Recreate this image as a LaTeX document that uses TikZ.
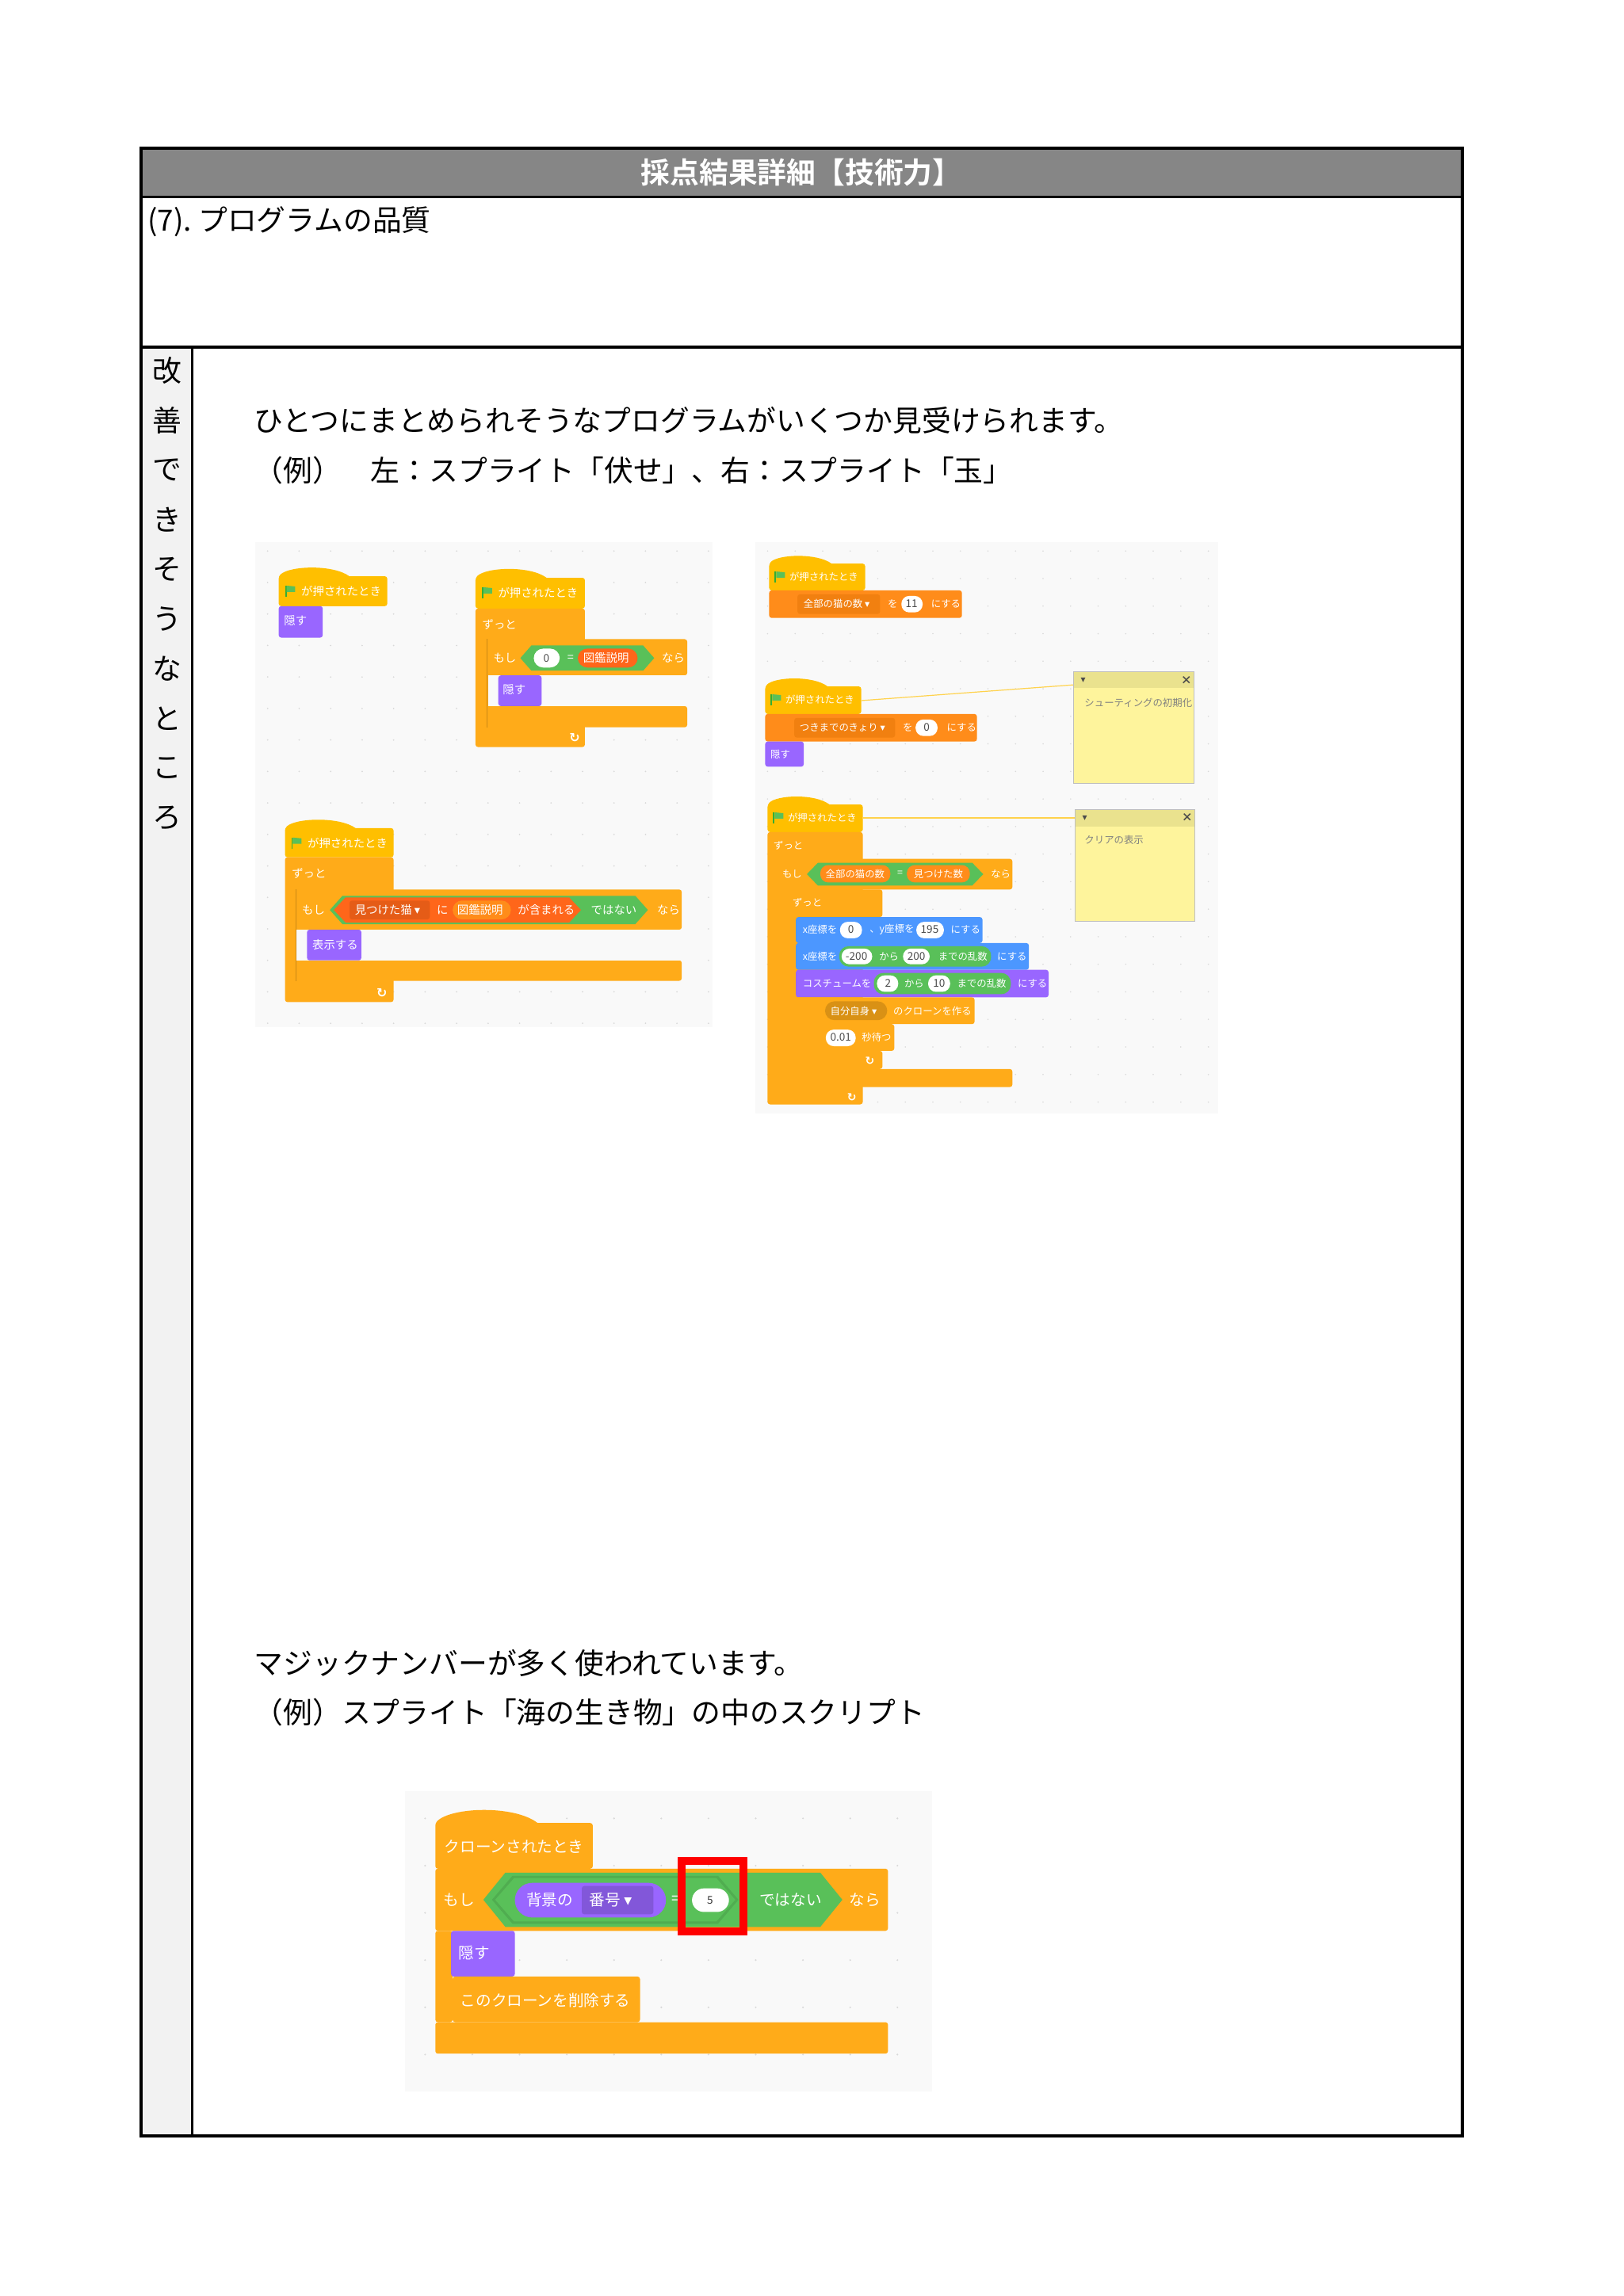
\documentclass[tikz,border=0pt]{standalone}
\usepackage{fontspec}
\setmainfont{Noto Sans CJK JP}
\newfontfamily\jpb{Noto Sans CJK JP Bold}
\newfontfamily\dejavufont{DejaVu Sans}
\newcommand\dn{{\dejavufont ▾}}
\newcommand\rp{{\dejavufont ↻}}
\definecolor{evt}{HTML}{FFBF00}
\definecolor{ctl}{HTML}{FFAB19}
\definecolor{var}{HTML}{FF8C1A}
\definecolor{vard}{HTML}{DB6E00}
\definecolor{lst}{HTML}{FF661A}
\definecolor{opr}{HTML}{59C059}
\definecolor{mot}{HTML}{4C97FF}
\definecolor{lks}{HTML}{9966FF}
\definecolor{bgs}{HTML}{F9F9F9}
\definecolor{note}{HTML}{FEF49C}
\definecolor{noteh}{HTML}{EAE28E}
\newcommand\sbk[5]{\fill[#5,rounded corners=0.8pt] (#1,#2) rectangle (#3,#4);}
\newcommand\hatb[5]{\fill[#5,rounded corners=0.8pt] (#1,#4) -- (#1,#2) [sharp corners] .. controls ({#1+0.1*(#3-#1)},{#2-0.35*(#4-#2)}) and ({#1+0.5*(#3-#1)},{#2-0.4*(#4-#2)}) .. ({#1+0.65*(#3-#1)},#2) [rounded corners=0.8pt] -- (#3,#2) -- (#3,#4) -- cycle;}
\newcommand\hexb[6]{\fill[#6] (#1,{(#2+#4)/2}) -- ({#1+#5},#2) -- ({#3-#5},#2) -- (#3,{(#2+#4)/2}) -- ({#3-#5},#4) -- ({#1+#5},#4) -- cycle;}
\newcommand\ovl[6]{\fill[#5,rounded corners=#6] (#1,#2) rectangle (#3,#4);}
\newcommand\tx[4]{\node[anchor=west,inner sep=0,text=white,font=#4] at (#1,#2) {#3};}
\newcommand\txc[4]{\node[inner sep=0,text=#4,font=\fontsize{3.4}{4}\selectfont] at (#1,#2) {#3};}
\newcommand\flag[2]{\fill[green!60!black!80] (#1,#2) rectangle ({#1+2},{#2+14}); \fill[opr] ({#1+2},#2) -- ({#1+13},{#2+1}) -- ({#1+13},{#2+8}) -- ({#1+2},{#2+8}) -- cycle;}
\begin{document}
\begin{tikzpicture}[x=0.2483pt,y=-0.2483pt]
\fill[white] (0pt,0pt) rectangle (512pt,-724.25pt);
\useasboundingbox (0pt,0pt) rectangle (512pt,-724.25pt);
% table
\fill[gray!95] (179,188) rectangle (1858,250);
\fill[black!5] (179,441) rectangle (244,2713);
\draw[line width=1pt] (179,188) rectangle (1858,2713);
\draw[line width=0.8pt] (179,250) -- (1858,250);
\draw[line width=0.8pt] (179,441) -- (1858,441);
\draw[line width=0.8pt] (244,441) -- (244,2713);
\node[text=white,font=\jpb\fontsize{9.2}{11}\selectfont] (title) at (1018,219) {採点結果詳細【技術力】};
\node[anchor=west,inner sep=0,font=\fontsize{9.2}{11}\selectfont] (h7) at (187,282) {(7).\ プログラムの品質};
\foreach \c [count=\i from 0] in {改,善,で,き,そ,う,な,と,こ,ろ}
  \node[inner sep=0,font=\fontsize{9.2}{11}\selectfont] at (212,{471+63.1*\i}) {\c};
\node[anchor=west,inner sep=0,font=\fontsize{9.2}{11}\selectfont] (t1) at (322,534) {ひとつにまとめられそうなプログラムがいくつか見受けられます。};
\node[anchor=west,inner sep=0,font=\fontsize{9.2}{11}\selectfont] (t2) at (322,598) {（例）\quad 左：スプライト「伏せ」、右：スプライト「玉」};
\node[anchor=west,inner sep=0,font=\fontsize{9.2}{11}\selectfont] (t3) at (322,2113) {マジックナンバーが多く使われています。};
\node[anchor=west,inner sep=0,font=\fontsize{9.2}{11}\selectfont] (t4) at (322,2175) {（例）スプライト「海の生き物」の中のスクリプト};
% ================= left screenshot
\fill[bgs] (324,689) rectangle (905,1305);
\foreach \x in {340,380,...,900} \foreach \y in {700,740,...,1300} \fill[black!15] (\x,\y) circle (0.25pt);
\def\fa{\fontsize{3.6}{4}\selectfont}
\hatb{354}{732}{492}{770}{evt} \flag{362}{744} \tx{382}{751}{が押されたとき}{\fa}
\sbk{354}{770}{410}{810}{lks} \tx{360}{788}{隠す}{\fa}
% block B
\hatb{604}{734}{743}{773}{evt} \flag{612}{746} \tx{632}{753}{が押されたとき}{\fa}
\sbk{604}{773}{743}{949}{ctl} \tx{612}{793}{ずっと}{\fa}
\sbk{619}{812}{873}{858}{ctl} \sbk{619}{897}{873}{924}{ctl}
\fill[bgs] (620,858) rectangle (873,897);
\draw[ctl!80!black,line width=0.2pt] (619,812) -- (619,924);
\tx{626}{836}{もし}{\fa}
\hexb{661}{820}{831}{852}{14}{opr}
\ovl{678}{824}{711}{848}{white}{3pt} \txc{694}{836}{0}{black!70}
\tx{720}{836}{=}{\fa}
\ovl{734}{824}{810}{848}{lst}{3pt} \tx{740}{836}{図鑑説明}{\fa}
\tx{840}{836}{なら}{\fa}
\sbk{633}{858}{688}{897}{lks} \tx{638}{876}{隠す}{\fa}
\node[text=white,font=\bfseries\fontsize{4}{4}\selectfont] at (730,937) {\rp};
% block C
\hatb{362}{1052}{500}{1089}{evt} \flag{370}{1064} \tx{390}{1071}{が押されたとき}{\fa}
\sbk{362}{1089}{500}{1273}{ctl} \tx{370}{1110}{ずっと}{\fa}
\sbk{376}{1130}{866}{1181}{ctl} \sbk{376}{1220}{866}{1246}{ctl}
\fill[bgs] (377,1181) rectangle (866,1220);
\draw[ctl!80!black,line width=0.2pt] (376,1130) -- (376,1246);
\tx{383}{1156}{もし}{\fa}
\hexb{419}{1138}{823}{1174}{16}{opr}
\hexb{424}{1140}{738}{1172}{15}{lst}
\sbk{444}{1144}{546}{1168}{lst!90!black} \tx{450}{1156}{見つけた猫 \dn}{\fa}
\tx{554}{1156}{に}{\fa}
\ovl{575}{1144}{649}{1168}{var}{3pt} \tx{580}{1156}{図鑑説明}{\fa}
\tx{657}{1156}{が含まれる}{\fa}
\tx{750}{1156}{ではない}{\fa}
\tx{834}{1156}{なら}{\fa}
\sbk{390}{1181}{459}{1220}{lks} \tx{396}{1200}{表示する}{\fa}
\node[text=white,font=\bfseries\fontsize{4}{4}\selectfont] at (485,1262) {\rp};
% ================= right screenshot
\fill[bgs] (959,689) rectangle (1547,1415);
\foreach \x in {975,1010,...,1545} \foreach \y in {700,735,...,1410} \fill[black!15] (\x,\y) circle (0.22pt);
\def\fb{\fontsize{3.1}{3.5}\selectfont}
% D
\hatb{977}{716}{1099}{750}{evt} \flag{984}{726} \tx{1002}{733}{が押されたとき}{\fb}
\sbk{977}{750}{1222}{785}{var}
\sbk{1013}{755}{1118}{780}{vard!40!var} \tx{1020}{767}{全部の猫の数 \dn}{\fb}
\tx{1127}{767}{を}{\fb}
\ovl{1145}{757}{1172}{778}{white}{2.5pt} \txc{1158}{767}{11}{black!70}
\tx{1182}{767}{にする}{\fb}
% E
\hatb{972}{872}{1094}{907}{evt} \flag{979}{882} \tx{997}{889}{が押されたとき}{\fb}
\sbk{972}{907}{1241}{942}{var}
\sbk{1009}{912}{1137}{937}{vard!40!var} \tx{1015}{924}{つきまでのきょり \dn}{\fb}
\tx{1146}{924}{を}{\fb}
\ovl{1163}{914}{1191}{935}{white}{2.5pt} \txc{1177}{924}{0}{black!70}
\tx{1202}{924}{にする}{\fb}
\sbk{972}{942}{1021}{974}{lks} \tx{978}{958}{隠す}{\fb}
% note 1
\draw[evt!70,line width=0.3pt] (1094,890) -- (1364,870);
\fill[note] (1364,853) rectangle (1517,995);
\fill[noteh] (1364,853) rectangle (1517,874);
\draw[black!25,line width=0.2pt] (1364,853) rectangle (1517,995);
\node[font=\fontsize{3}{3}\selectfont,text=black!70] at (1376,864) {\dn};
\node[font=\bfseries\fontsize{3.5}{3}\selectfont,text=black!70] at (1507,864) {×};
\node[anchor=west,inner sep=0,font=\fb,text=black!50] at (1377,893) {シューティングの初期化};
% F
\hatb{975}{1022}{1096}{1057}{evt} \flag{982}{1032} \tx{1000}{1039}{が押されたとき}{\fb}
\sbk{975}{1057}{1096}{1403}{ctl} \tx{982}{1074}{ずっと}{\fb}
\sbk{986}{1091}{1286}{1130}{ctl} \sbk{986}{1358}{1286}{1381}{ctl}
\sbk{986}{1130}{1011}{1358}{ctl}
\tx{993}{1110}{もし}{\fb}
\hexb{1025}{1096}{1249}{1125}{14}{opr}
\ovl{1042}{1099}{1131}{1121}{var}{2.5pt} \tx{1048}{1110}{全部の猫の数}{\fb}
\tx{1139}{1110}{=}{\fb}
\ovl{1152}{1099}{1232}{1121}{var}{2.5pt} \tx{1160}{1110}{見つけた数}{\fb}
\tx{1258}{1110}{なら}{\fb}
\sbk{1000}{1130}{1121}{1165}{ctl} \tx{1006}{1147}{ずっと}{\fb}
\sbk{1000}{1165}{1011}{1358}{ctl} \sbk{1000}{1335}{1121}{1358}{ctl}
\sbk{1011}{1165}{1248}{1198}{mot} \tx{1019}{1181}{x座標を}{\fb}
\ovl{1067}{1171}{1095}{1192}{white}{2.5pt} \txc{1081}{1181}{0}{black!70}
\tx{1104}{1181}{、y座標を}{\fb}
\ovl{1164}{1171}{1199}{1192}{white}{2.5pt} \txc{1181}{1181}{195}{black!70}
\tx{1207}{1181}{にする}{\fb}
\sbk{1011}{1198}{1307}{1232}{mot} \tx{1019}{1215}{x座標を}{\fb}
\ovl{1066}{1202}{1259}{1228}{opr}{3pt}
\ovl{1069}{1205}{1108}{1225}{white}{2.5pt} \txc{1088}{1215}{-200}{black!70}
\tx{1116}{1215}{から}{\fb}
\ovl{1147}{1205}{1181}{1225}{white}{2.5pt} \txc{1164}{1215}{200}{black!70}
\tx{1191}{1215}{までの乱数}{\fb}
\tx{1266}{1215}{にする}{\fb}
\sbk{1011}{1232}{1332}{1267}{lks} \tx{1019}{1249}{コスチュームを}{\fb}
\ovl{1110}{1236}{1284}{1263}{opr}{3pt}
\ovl{1114}{1239}{1141}{1260}{white}{2.5pt} \txc{1128}{1249}{2}{black!70}
\tx{1148}{1249}{から}{\fb}
\ovl{1179}{1239}{1207}{1260}{white}{2.5pt} \txc{1193}{1249}{10}{black!70}
\tx{1215}{1249}{までの乱数}{\fb}
\tx{1292}{1249}{にする}{\fb}
\sbk{1011}{1267}{1238}{1301}{ctl}
\ovl{1048}{1272}{1127}{1296}{ctl!85!black}{3pt} \tx{1054}{1284}{自分自身 \dn}{\fb}
\tx{1134}{1284}{のクローンを作る}{\fb}
\sbk{1011}{1301}{1136}{1335}{ctl}
\ovl{1049}{1308}{1087}{1329}{white}{2.5pt} \txc{1068}{1318}{0.01}{black!70}
\tx{1094}{1318}{秒待つ}{\fb}
\node[text=white,font=\bfseries\fontsize{3.5}{4}\selectfont] at (1105,1348) {\rp};
\node[text=white,font=\bfseries\fontsize{3.5}{4}\selectfont] at (1082,1394) {\rp};
% note 2
\draw[evt!70,line width=0.3pt] (1096,1039) -- (1366,1039);
\fill[note] (1366,1028) rectangle (1518,1170);
\fill[noteh] (1366,1028) rectangle (1518,1050);
\draw[black!25,line width=0.2pt] (1366,1028) rectangle (1518,1170);
\node[font=\fontsize{3}{3}\selectfont,text=black!70] at (1378,1039) {\dn};
\node[font=\bfseries\fontsize{3.5}{3}\selectfont,text=black!70] at (1508,1039) {×};
\node[anchor=west,inner sep=0,font=\fb,text=black!50] at (1377,1067) {クリアの表示};
% ================= bottom screenshot
\fill[bgs] (514,2275) rectangle (1184,2657);
\foreach \x in {540,600,...,1180} \foreach \y in {2310,2370,...,2640} \fill[black!15] (\x,\y) circle (0.3pt);
\def\fc{\fontsize{4.9}{6}\selectfont}
\begin{scope}[yshift=-2.7pt]
\hatb{553}{2305}{753}{2363}{ctl} \tx{564}{2335}{クローンされたとき}{\fc}
\sbk{553}{2363}{1128}{2442}{ctl} \sbk{553}{2558}{1128}{2598}{ctl}
\sbk{553}{2442}{575}{2558}{ctl}
\tx{563}{2403}{もし}{\fc}
\hexb{614}{2368}{1070}{2437}{28}{opr}
\hexb{625}{2372}{938}{2433}{26}{opr!90!black}
\hexb{629}{2375}{934}{2430}{24}{opr}
\ovl{654}{2381}{846}{2425}{lks}{5.5pt} \tx{668}{2403}{背景の}{\fc}
\sbk{739}{2385}{830}{2421}{lks!85!black} \tx{748}{2403}{番号 \dn}{\fc}
\tx{852}{2403}{=}{\fc}
\ovl{879}{2388}{926}{2418}{white}{3.8pt} \txc{902}{2403}{5}{black!80}
\tx{964}{2403}{ではない}{\fc}
\tx{1078}{2403}{なら}{\fc}
\sbk{573}{2442}{654}{2500}{lks} \tx{582}{2470}{隠す}{\fc}
\sbk{575}{2500}{813}{2558}{ctl} \tx{584}{2530}{このクローンを削除する}{\fc}
\draw[red,line width=2.5pt] (866,2353) rectangle (944,2443);
\end{scope}
\end{tikzpicture}
\end{document}
